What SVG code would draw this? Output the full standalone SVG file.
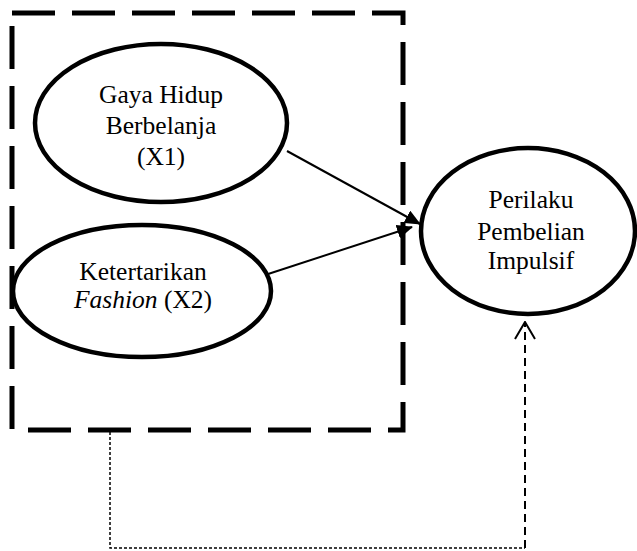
<svg xmlns="http://www.w3.org/2000/svg" width="637" height="551" viewBox="0 0 637 551">
<style>
.node ellipse{fill:#fff;stroke:#000;stroke-width:4.5}
.t{font-family:'Liberation Serif','Times New Roman',serif;font-size:25.5px;fill:#000;text-anchor:middle}
.arr{stroke:#000;stroke-width:2;fill:none}
</style>
<defs>
<marker id="ah" markerWidth="16" markerHeight="14" refX="15" refY="7" orient="auto" markerUnits="userSpaceOnUse">
<path d="M0,0 L16,7 L0,14 Z" fill="#000"/>
</marker>
<marker id="oh" markerWidth="22" markerHeight="20" refX="11" refY="1" orient="0" markerUnits="userSpaceOnUse">
<path d="M1,18 L11,1 L21,18" fill="none" stroke="#000" stroke-width="2"/>
</marker>
</defs>
<rect x="12" y="13" width="391" height="417" fill="none" stroke="#000" stroke-width="5" stroke-dasharray="43 17"/>
<g id="connectors">
<line class="arr" x1="287" y1="151" x2="420" y2="224" marker-end="url(#ah)"/>
<line class="arr" x1="262" y1="276" x2="412" y2="227" marker-end="url(#ah)"/>
<path d="M110,432 V548 H525" fill="none" stroke="#000" stroke-width="1.5" stroke-dasharray="3 2"/>
<path d="M525,548 V322" fill="none" stroke="#000" stroke-width="2" stroke-dasharray="8 5" marker-end="url(#oh)"/>
</g>
<g id="x1" class="node">
<ellipse cx="161" cy="123" rx="126" ry="79"/>
<text class="t" x="161" y="103">Gaya Hidup</text>
<text class="t" x="161" y="134">Berbelanja</text>
<text class="t" x="161" y="165">(X1)</text>
</g>
<g id="x2" class="node">
<ellipse cx="142" cy="291" rx="129" ry="66"/>
<text class="t" x="143" y="280">Ketertarikan</text>
<text class="t" x="143" y="308"><tspan font-style="italic">Fashion</tspan> (X2)</text>
</g>
<g id="y" class="node">
<ellipse cx="528" cy="231" rx="107" ry="83"/>
<text class="t" x="531" y="208">Perilaku</text>
<text class="t" x="531" y="240">Pembelian</text>
<text class="t" x="531" y="269">Impulsif</text>
</g>
</svg>
